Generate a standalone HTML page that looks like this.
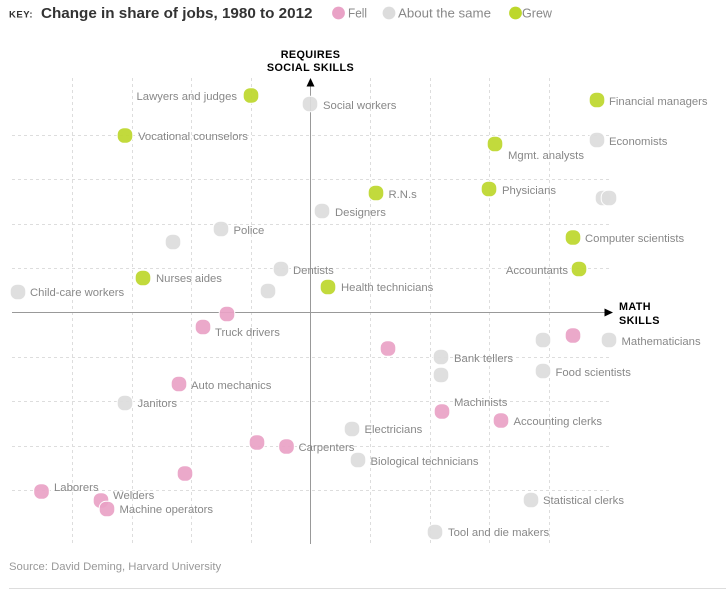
<!DOCTYPE html>
<html><head><meta charset="utf-8"><style>
html,body{margin:0;padding:0;background:#fff;}
svg{display:block;}
text{font-family:"Liberation Sans",Arial,sans-serif;}
.l{font-size:11.3px;fill:#888;}
.gl{stroke:#ddd;stroke-width:1;stroke-dasharray:3 3;fill:none;}
.p{fill:#e9a2c6;}
.g{fill:#dcdcdc;}
.v{fill:#bdd72b;}
.d{stroke:#fff;stroke-width:1;fill-opacity:0.92;}
</style></head><body>
<svg width="726" height="591" viewBox="0 0 726 591" xmlns="http://www.w3.org/2000/svg">
<!-- header -->
<text x="9" y="17.5" textLength="24" lengthAdjust="spacingAndGlyphs" style="font-size:9.3px;font-weight:bold;letter-spacing:0.5px;fill:#333">KEY:</text>
<text x="41" y="18" textLength="271.5" lengthAdjust="spacingAndGlyphs" style="font-size:15.2px;font-weight:bold;fill:#333">Change in share of jobs, 1980 to 2012</text>
<circle cx="338.5" cy="13" r="6.4" class="p"/>
<text x="348" y="17.5" textLength="19" lengthAdjust="spacingAndGlyphs" style="font-size:12.5px;fill:#888">Fell</text>
<circle cx="389" cy="13" r="6.4" class="g"/>
<text x="398" y="17.5" textLength="93" lengthAdjust="spacingAndGlyphs" style="font-size:12.8px;fill:#888">About the same</text>
<circle cx="515.5" cy="13" r="6.4" class="v"/>
<text x="522" y="17.5" textLength="30" lengthAdjust="spacingAndGlyphs" style="font-size:12.5px;fill:#888">Grew</text>

<!-- grid -->
<g class="gl">
<line x1="72.5" y1="78" x2="72.5" y2="544"/>
<line x1="132.5" y1="78" x2="132.5" y2="544"/>
<line x1="191.5" y1="78" x2="191.5" y2="544"/>
<line x1="251.5" y1="78" x2="251.5" y2="544"/>
<line x1="370.5" y1="78" x2="370.5" y2="544"/>
<line x1="430.5" y1="78" x2="430.5" y2="544"/>
<line x1="489.5" y1="78" x2="489.5" y2="544"/>
<line x1="549.5" y1="78" x2="549.5" y2="544"/>
<line x1="12" y1="135.5" x2="609" y2="135.5"/>
<line x1="12" y1="179.5" x2="609" y2="179.5"/>
<line x1="12" y1="224.5" x2="609" y2="224.5"/>
<line x1="12" y1="268.5" x2="609" y2="268.5"/>
<line x1="12" y1="357.5" x2="609" y2="357.5"/>
<line x1="12" y1="401.5" x2="609" y2="401.5"/>
<line x1="12" y1="446.5" x2="609" y2="446.5"/>
<line x1="12" y1="490.5" x2="609" y2="490.5"/>
</g>
<!-- axes -->
<line x1="310.5" y1="84" x2="310.5" y2="544" stroke="#999" stroke-width="1"/>
<line x1="12" y1="312.5" x2="606" y2="312.5" stroke="#999" stroke-width="1"/>
<polygon points="310.5,78 306.5,86.5 314.5,86.5" fill="#000"/>
<polygon points="613,312.5 604.5,308.5 604.5,316.5" fill="#000"/>
<text x="310.5" y="58" text-anchor="middle" style="font-size:10.8px;font-weight:bold;fill:#000;letter-spacing:0.4px">REQUIRES</text>
<text x="310.5" y="71" text-anchor="middle" style="font-size:10.8px;font-weight:bold;fill:#000;letter-spacing:0.4px">SOCIAL SKILLS</text>
<text x="619" y="310" style="font-size:10.8px;font-weight:bold;fill:#000;letter-spacing:0.4px">MATH</text>
<text x="619" y="324" style="font-size:10.8px;font-weight:bold;fill:#000;letter-spacing:0.4px">SKILLS</text>

<!-- dots -->
<g class="d">
<!-- gray -->
<rect class="g" x="302.2" y="96.2" width="15.6" height="15.6" rx="6.8"/>
<rect class="g" x="589.2" y="132.2" width="15.6" height="15.6" rx="6.8"/>
<rect class="g" x="595.2" y="190.2" width="15.6" height="15.6" rx="6.8"/>
<rect class="g" x="601.2" y="190.2" width="15.6" height="15.6" rx="6.8"/>
<rect class="g" x="314.2" y="203.2" width="15.6" height="15.6" rx="6.8"/>
<rect class="g" x="213.2" y="221.2" width="15.6" height="15.6" rx="6.8"/>
<rect class="g" x="165.2" y="234.2" width="15.6" height="15.6" rx="6.8"/>
<rect class="g" x="273.2" y="261.2" width="15.6" height="15.6" rx="6.8"/>
<rect class="g" x="260.2" y="283.2" width="15.6" height="15.6" rx="6.8"/>
<rect class="g" x="10.2" y="284.2" width="15.6" height="15.6" rx="6.8"/>
<rect class="g" x="535.2" y="332.2" width="15.6" height="15.6" rx="6.8"/>
<rect class="g" x="601.2" y="332.2" width="15.6" height="15.6" rx="6.8"/>
<rect class="g" x="433.2" y="349.2" width="15.6" height="15.6" rx="6.8"/>
<rect class="g" x="433.2" y="367.2" width="15.6" height="15.6" rx="6.8"/>
<rect class="g" x="535.2" y="363.2" width="15.6" height="15.6" rx="6.8"/>
<rect class="g" x="117.2" y="395.2" width="15.6" height="15.6" rx="6.8"/>
<rect class="g" x="344.2" y="421.2" width="15.6" height="15.6" rx="6.8"/>
<rect class="g" x="350.2" y="452.2" width="15.6" height="15.6" rx="6.8"/>
<rect class="g" x="523.2" y="492.2" width="15.6" height="15.6" rx="6.8"/>
<rect class="g" x="427.2" y="524.2" width="15.6" height="15.6" rx="6.8"/>
<!-- green -->
<rect class="v" x="243.2" y="87.7" width="15.6" height="15.6" rx="6.8"/>
<rect class="v" x="117.2" y="127.7" width="15.6" height="15.6" rx="6.8"/>
<rect class="v" x="589.2" y="92.2" width="15.6" height="15.6" rx="6.8"/>
<rect class="v" x="487.2" y="136.2" width="15.6" height="15.6" rx="6.8"/>
<rect class="v" x="481.2" y="181.2" width="15.6" height="15.6" rx="6.8"/>
<rect class="v" x="368.2" y="185.2" width="15.6" height="15.6" rx="6.8"/>
<rect class="v" x="565.2" y="229.7" width="15.6" height="15.6" rx="6.8"/>
<rect class="v" x="571.2" y="261.2" width="15.6" height="15.6" rx="6.8"/>
<rect class="v" x="135.2" y="270.2" width="15.6" height="15.6" rx="6.8"/>
<rect class="v" x="320.2" y="279.2" width="15.6" height="15.6" rx="6.8"/>
<!-- pink -->
<rect class="p" x="219.2" y="306.2" width="15.6" height="15.6" rx="6.8"/>
<rect class="p" x="195.2" y="319.2" width="15.6" height="15.6" rx="6.8"/>
<rect class="p" x="380.2" y="340.7" width="15.6" height="15.6" rx="6.8"/>
<rect class="p" x="565.2" y="327.7" width="15.6" height="15.6" rx="6.8"/>
<rect class="p" x="171.2" y="376.2" width="15.6" height="15.6" rx="6.8"/>
<rect class="p" x="434.2" y="403.7" width="15.6" height="15.6" rx="6.8"/>
<rect class="p" x="493.2" y="412.7" width="15.6" height="15.6" rx="6.8"/>
<rect class="p" x="249.2" y="434.7" width="15.6" height="15.6" rx="6.8"/>
<rect class="p" x="278.7" y="438.7" width="15.6" height="15.6" rx="6.8"/>
<rect class="p" x="177.2" y="465.7" width="15.6" height="15.6" rx="6.8"/>
<rect class="p" x="33.7" y="483.7" width="15.6" height="15.6" rx="6.8"/>
<rect class="p" x="93.2" y="492.7" width="15.6" height="15.6" rx="6.8"/>
<rect class="p" x="99.2" y="501.2" width="15.6" height="15.6" rx="6.8"/>
</g>

<!-- labels -->
<g class="l">
<text x="237" y="100" text-anchor="end">Lawyers and judges</text>
<text x="323" y="109">Social workers</text>
<text x="138" y="140">Vocational counselors</text>
<text x="609" y="105">Financial managers</text>
<text x="609" y="145">Economists</text>
<text x="508" y="159">Mgmt. analysts</text>
<text x="502" y="194">Physicians</text>
<text x="388.5" y="198">R.N.s</text>
<text x="335" y="216">Designers</text>
<text x="233.5" y="234">Police</text>
<text x="293" y="274">Dentists</text>
<text x="156" y="282">Nurses aides</text>
<text x="30" y="296">Child-care workers</text>
<text x="341" y="291">Health technicians</text>
<text x="585" y="242">Computer scientists</text>
<text x="568" y="274" text-anchor="end">Accountants</text>
<text x="215" y="336">Truck drivers</text>
<text x="621.5" y="345">Mathematicians</text>
<text x="454" y="362">Bank tellers</text>
<text x="555.5" y="376">Food scientists</text>
<text x="454" y="406">Machinists</text>
<text x="513.5" y="425">Accounting clerks</text>
<text x="364.5" y="433">Electricians</text>
<text x="370.5" y="465">Biological technicians</text>
<text x="191" y="389">Auto mechanics</text>
<text x="137.5" y="407">Janitors</text>
<text x="298.5" y="451">Carpenters</text>
<text x="54" y="491">Laborers</text>
<text x="113" y="499">Welders</text>
<text x="119.5" y="513">Machine operators</text>
<text x="543" y="504">Statistical clerks</text>
<text x="448" y="536">Tool and die makers</text>
</g>

<text x="9" y="570" style="font-size:11.3px;fill:#999">Source: David Deming, Harvard University</text>
<line x1="9" y1="588.5" x2="726" y2="588.5" stroke="#ddd" stroke-width="1"/>
</svg>
</body></html>
